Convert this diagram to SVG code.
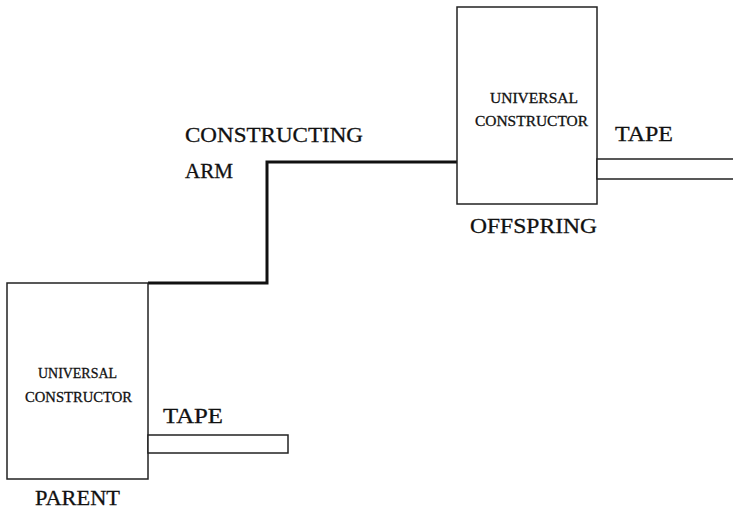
<svg xmlns="http://www.w3.org/2000/svg" width="733" height="509" viewBox="0 0 733 509">
<style>
.box{fill:#fff;stroke:#222;stroke-width:1.5}
.tape{fill:#fff;stroke:#222;stroke-width:1.5}
.arm{fill:none;stroke:#111;stroke-width:3;stroke-linejoin:miter}
text{font-family:"Liberation Serif","Times New Roman",serif;fill:#111;stroke:#111;stroke-width:0.3}
.big{font-size:22px}
.small{font-size:15px}
</style>
<rect width="733" height="509" fill="#fff"/>
<g id="connectors">
<path class="arm" d="M148,283 H267 V162 H457"/>
</g>
<g id="parent">
<rect class="box" x="7" y="283" width="141" height="196"/>
<text class="small" x="38" y="378" textLength="79" lengthAdjust="spacingAndGlyphs">UNIVERSAL</text>
<text class="small" x="25" y="402" textLength="107" lengthAdjust="spacingAndGlyphs">CONSTRUCTOR</text>
<text class="big" x="35" y="505" textLength="85" lengthAdjust="spacingAndGlyphs">PARENT</text>
</g>
<g id="parent-tape">
<rect class="tape" x="148" y="435" width="140" height="18"/>
<text class="big" x="163" y="423" textLength="60" lengthAdjust="spacingAndGlyphs">TAPE</text>
</g>
<g id="offspring">
<rect class="box" x="457" y="7" width="140" height="197"/>
<text class="small" x="490" y="103" textLength="88" lengthAdjust="spacingAndGlyphs">UNIVERSAL</text>
<text class="small" x="475" y="126" textLength="113" lengthAdjust="spacingAndGlyphs">CONSTRUCTOR</text>
<text class="big" x="470" y="233" textLength="127" lengthAdjust="spacingAndGlyphs">OFFSPRING</text>
</g>
<g id="offspring-tape">
<path class="tape" d="M740,159 H597 V179 H740"/>
<text class="big" x="615" y="141" textLength="58" lengthAdjust="spacingAndGlyphs">TAPE</text>
</g>
<g id="arm-label">
<text class="big" x="185" y="142" textLength="178" lengthAdjust="spacingAndGlyphs">CONSTRUCTING</text>
<text class="big" x="185" y="178" textLength="48" lengthAdjust="spacingAndGlyphs">ARM</text>
</g>
</svg>
